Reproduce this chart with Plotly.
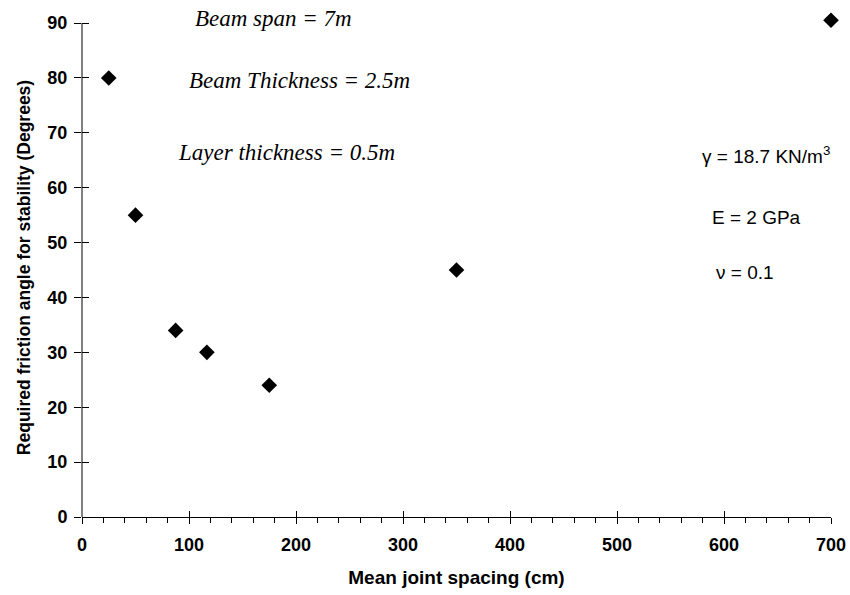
import plotly.graph_objects as go

joint_spacing = [25, 50, 87.5, 116.7, 175, 350, 700]
friction_angle = [80, 55, 34, 30, 24, 45, 90.5]

x_ticks = [0, 100, 200, 300, 400, 500, 600, 700]
y_ticks = [0, 10, 20, 30, 40, 50, 60, 70, 80, 90]

left_notes = ["Beam span = 7m", "Beam Thickness = 2.5m", "Layer thickness = 0.5m"]
left_note_x = [179.4, 202.8, 190.7]
left_note_y = [90.9, 79.6, 66.5]

right_notes = ["γ = 18.7 KN/m<sup>3</sup>", "E = 2 GPa", "ν = 0.1"]
right_note_x = [639, 630, 620]
right_note_y = [65.9, 54.5, 44.6]

Y_AXIS_END = 90     # where the drawn y axis line stops
Y_TOP = 90.92       # top of plotting range (a little headroom for the last point)

fig = go.Figure()
fig.add_trace(go.Scatter(
    x=joint_spacing, y=friction_angle, mode="markers",
    marker=dict(symbol="diamond", size=12, color="black"),
    cliponaxis=False, showlegend=False,
))

tickfont = dict(family="Liberation Sans, Arial", size=18, color="black")
fig.update_layout(
    width=850, height=595,
    margin=dict(l=82, r=19, t=18, b=78, autoexpand=False),
    paper_bgcolor="white", plot_bgcolor="white",
    xaxis=dict(
        range=[0, 700], tickvals=x_ticks, ticktext=[f"<b>{v}</b>" for v in x_ticks],
        showgrid=False, zeroline=False, showline=True, linecolor="black", linewidth=1,
        ticks="outside", ticklen=6, tickcolor="black", ticklabelstandoff=5,
        minor=dict(dtick=20, ticks="outside", ticklen=5, tickcolor="black", showgrid=False),
        tickfont=tickfont, automargin=False,
        title=dict(text="<b>Mean joint spacing (cm)</b>", font=dict(family="Liberation Sans, Arial", size=19, color="black"), standoff=17),
    ),
    yaxis=dict(
        range=[0, Y_TOP], tickvals=y_ticks, ticktext=[f"<b>{v}</b>" for v in y_ticks],
        showgrid=False, zeroline=False, showline=False,
        ticks="outside", ticklen=7, tickcolor="black", ticklabelstandoff=3,
        tickfont=tickfont, automargin=False,
        title=dict(text="<b>Required friction angle for stability (Degrees)</b>", font=dict(family="Liberation Sans, Arial", size=17.5, color="black"), standoff=12),
    ),
    xaxis2=dict(overlaying="x", matches="x", range=[0, 700], tickvals=x_ticks, ticks="inside", ticklen=6,
                tickcolor="black", showticklabels=False, showgrid=False, zeroline=False, showline=False,
                anchor="y"),
    yaxis2=dict(overlaying="y", matches="y", range=[0, Y_TOP], tickvals=y_ticks, ticks="inside", ticklen=7,
                tickcolor="black", showticklabels=False, showgrid=False, zeroline=False, showline=False,
                anchor="x", side="left"),
)
fig.add_trace(go.Scatter(x=[None], y=[None], xaxis="x2", yaxis="y2", showlegend=False, hoverinfo="skip"))

# y axis line, stopping at the last tick (90)
fig.add_shape(type="line", xref="paper", yref="y", x0=0, x1=0, y0=0, y1=Y_AXIS_END,
              line=dict(color="black", width=1), layer="above")

for t, x, y in zip(left_notes, left_note_x, left_note_y):
    fig.add_annotation(x=x, y=y, xref="x", yref="y", text=f"<i>{t}</i>", showarrow=False,
                       font=dict(family="Liberation Serif, Times New Roman", size=23, color="black"))
for t, x, y in zip(right_notes, right_note_x, right_note_y):
    fig.add_annotation(x=x, y=y, xref="x", yref="y", text=t, showarrow=False,
                       font=dict(family="Liberation Sans, Arial", size=19, color="black"))

fig.write_html("out.html", config={"displayModeBar": False},
               post_script="document.body.style.margin='0';document.body.style.padding='0';")
